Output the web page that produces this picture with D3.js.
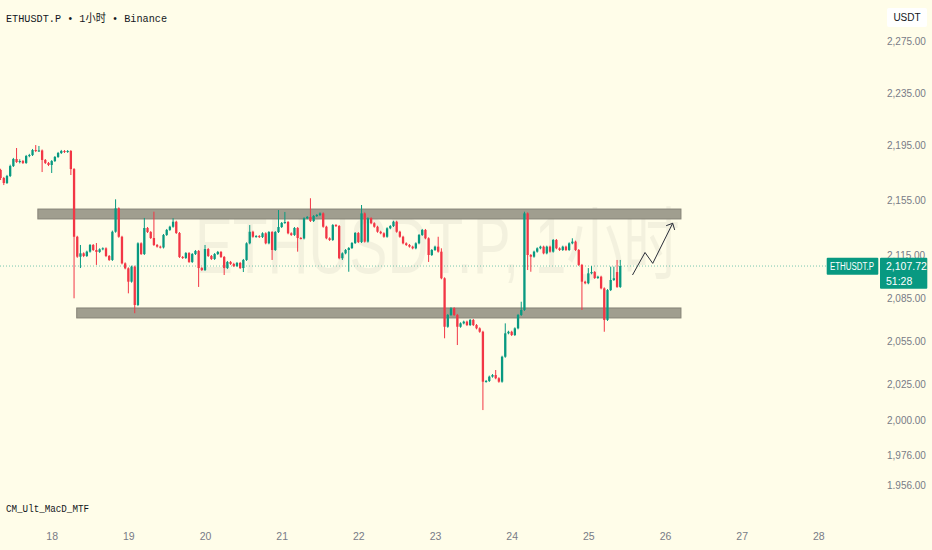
<!DOCTYPE html>
<html>
<head>
<meta charset="utf-8">
<script src="https://cdn.jsdelivr.net/npm/d3@7"></script>
<style>
  html, body { margin: 0; padding: 0; background: #fffde9; }
  svg { display: block; }
</style>
</head>
<body>
<div id="chart"></div>
<script>
// Hourly candles, first one at 17 Jan 08:00 (UTC)
var firstCandle = "2024-01-17T08:00:00Z"

var opens = [
  2177.1, 2171.2, 2167.5, 2172.7, 2180, 2185.2, 2183, 2183.7, 2182.3, 2187.4,
  2188.1, 2191.8, 2191.1, 2191.5, 2184.5, 2182.3, 2180.8, 2183.7, 2186.7, 2189.6,
  2191.1, 2190.4, 2191.1, 2177.8, 2128.6, 2114.3, 2116.7, 2114.8, 2117.9, 2122.7,
  2119.1, 2117.7, 2119.6, 2120.3, 2114.8, 2112, 2132.2, 2149, 2128.6, 2109.6,
  2106.1, 2096.7, 2107.3, 2080.3, 2123.9, 2116.2, 2134.9, 2132, 2127.7, 2122.7,
  2121.5, 2120.9, 2129.9, 2133.5, 2135.8, 2139.4, 2131.3, 2114.1, 2113.4, 2116.9,
  2110.6, 2116.2, 2118.4, 2106.3, 2104.9, 2119.8, 2114.8, 2112.7, 2116.2, 2117.7,
  2114.1, 2106.3, 2110.6, 2109.2, 2107.7, 2109.9, 2106.3, 2112, 2123.9, 2132.2,
  2128.6, 2129.1, 2128.4, 2131.1, 2123.9, 2132, 2119.1, 2132, 2135.6, 2138.5,
  2139.2, 2131.1, 2129.9, 2134.9, 2127.7, 2127.4, 2141.9, 2142.8, 2139.9, 2143.5,
  2144.2, 2145.4, 2135.8, 2127.5, 2126.3, 2137, 2136.3, 2113.2, 2116.7, 2119.1,
  2120.5, 2124.1, 2131.3, 2124.8, 2145.4, 2125.1, 2141.9, 2138.3, 2135.8, 2132.2,
  2131.1, 2128.6, 2134.7, 2136.3, 2139.4, 2132.2, 2128.6, 2123.9, 2122.7, 2121.5,
  2120.3, 2123.9, 2129.9, 2133.5, 2127.5, 2115.5, 2119.1, 2121.5, 2117.9, 2099.1,
  2065, 2073.3, 2078, 2073.3, 2065, 2067.4, 2068.6, 2066.2, 2069.8, 2066.2,
  2063.9, 2061.5, 2026.8, 2027.3, 2030.3, 2031.4, 2029.2, 2026.8, 2044.1, 2060.4,
  2061.5, 2059.2, 2063.9, 2073.3, 2076.8, 2145.4, 2115.5, 2114.3, 2117.9, 2120.3,
  2121.5, 2116.7, 2121.5, 2117.9, 2126.3, 2120.3, 2119.1, 2121.5, 2119.1, 2123.9,
  2125.1, 2119.1, 2108.5, 2096.7, 2095.6, 2102.6, 2103.5, 2099.3, 2100.2, 2092,
  2069.8, 2090.8, 2097.9, 2103.5, 2093
]

var highs = [
  2178, 2172, 2173.5, 2181, 2186, 2193.3, 2185, 2184.5, 2188.2, 2189,
  2192.6, 2195.5, 2194.8, 2192.2, 2185.2, 2183, 2184.4, 2187.4, 2190.4, 2191.9,
  2191.8, 2191.8, 2191.8, 2178.5, 2129.3, 2122.7, 2117.4, 2118.6, 2123.4, 2123.4,
  2124.1, 2120.3, 2121, 2121, 2115.5, 2133, 2155.5, 2149.7, 2129.3, 2110.3,
  2106.8, 2108, 2108, 2124.6, 2124.6, 2142.1, 2135.6, 2132.7, 2146.6, 2123.4,
  2122.2, 2130.6, 2134.2, 2136.5, 2141.9, 2140.1, 2132, 2114.8, 2117.6, 2117.6,
  2116.9, 2119.1, 2119.1, 2107, 2122.7, 2120.5, 2115.5, 2116.9, 2118.4, 2118.4,
  2114.8, 2111.3, 2111.3, 2110, 2110.6, 2110.6, 2112.7, 2124.6, 2137, 2132.9,
  2129.8, 2129.8, 2131.8, 2131.8, 2132.7, 2132.7, 2132.7, 2147.8, 2139.2, 2146.4,
  2139.9, 2131.8, 2135.6, 2135.6, 2128.4, 2142.6, 2143.5, 2156.3, 2144.2, 2144.9,
  2146.1, 2146.1, 2136.5, 2128.2, 2137.7, 2137.7, 2137, 2117.4, 2119.8, 2121.2,
  2124.8, 2132, 2132, 2151.4, 2146.1, 2142.6, 2142.6, 2139, 2136.5, 2132.9,
  2131.8, 2135.4, 2137, 2140.1, 2140.1, 2132.9, 2129.3, 2124.6, 2123.4, 2122.2,
  2124.6, 2130.6, 2134.2, 2134.2, 2128.2, 2119.8, 2122.2, 2128.6, 2120.3, 2099.8,
  2074, 2078.7, 2078.7, 2074, 2068.1, 2069.3, 2069.3, 2070.5, 2070.5, 2066.9,
  2064.6, 2062.2, 2028, 2031, 2032.1, 2034.9, 2029.9, 2044.8, 2067.4, 2062.2,
  2062.2, 2064.6, 2074, 2082.6, 2146.6, 2146.1, 2116.2, 2118.6, 2121, 2122.2,
  2122.2, 2122.2, 2122.2, 2127, 2127, 2121, 2122.2, 2122.2, 2124.6, 2127.5,
  2125.8, 2119.8, 2109.2, 2097.4, 2106.3, 2107.7, 2104.2, 2100.9, 2100.9, 2092.7,
  2091.5, 2107.3, 2107.3, 2112, 2112
]

var lows = [
  2169.7, 2166, 2166.8, 2171.9, 2179.3, 2182.3, 2182, 2181.5, 2181.6, 2186.5,
  2187.4, 2190.3, 2190.4, 2175.6, 2181.5, 2180, 2174.9, 2183, 2186, 2188.9,
  2189.6, 2189.7, 2173.4, 2085, 2113.5, 2106.3, 2114, 2114.1, 2117.2, 2118.4,
  2108.5, 2117, 2118.9, 2114, 2111.3, 2111.3, 2131.5, 2127.9, 2108.9, 2105.4,
  2088.5, 2096, 2074.5, 2079.5, 2115.5, 2115.5, 2131.3, 2127, 2122, 2120.8,
  2120.2, 2120.2, 2129.2, 2132.8, 2135.1, 2130.6, 2113.4, 2112.7, 2112.7, 2109.9,
  2109.9, 2115.5, 2093, 2104.2, 2104.2, 2114.1, 2112, 2112, 2115.5, 2113.4,
  2101.4, 2105.6, 2108.5, 2107, 2107, 2105.6, 2103.5, 2111.3, 2123.2, 2127.9,
  2127.9, 2127.7, 2127.7, 2123.2, 2123.2, 2112, 2118.4, 2131.3, 2134.9, 2137.8,
  2130.4, 2129.2, 2129.2, 2117.9, 2126.7, 2126.7, 2141.2, 2139.2, 2139.2, 2142.8,
  2143.5, 2135.1, 2126.8, 2125.6, 2125.6, 2135.6, 2112.5, 2112, 2116, 2103.7,
  2119.8, 2123.4, 2124.1, 2124.1, 2124.4, 2124.4, 2137.6, 2135.1, 2131.5, 2130.4,
  2127.9, 2127.9, 2134, 2135.6, 2131.5, 2127.9, 2123.2, 2122, 2120.8, 2119.6,
  2119.6, 2123.2, 2129.2, 2126.8, 2110.6, 2114.8, 2118.4, 2117.2, 2098.4, 2056.9,
  2064.3, 2072.6, 2072.6, 2052.2, 2064.3, 2066.7, 2065.5, 2065.5, 2065.5, 2063.2,
  2060.8, 2007.3, 2026.1, 2026.6, 2029.6, 2028.5, 2026.1, 2026.1, 2043.4, 2059.7,
  2058.5, 2058.5, 2063.2, 2072.6, 2076.1, 2104.9, 2103.7, 2113.6, 2117.2, 2119.6,
  2116, 2116, 2117.2, 2117.2, 2119.6, 2118.4, 2118.4, 2118.4, 2118.4, 2123.2,
  2118.4, 2107.8, 2076.8, 2094.9, 2094.9, 2101.9, 2098.6, 2098.6, 2091.3, 2061.5,
  2069.1, 2090.1, 2097.2, 2092.3, 2092.3
]

var closes = [
  2171.2, 2167.5, 2172.7, 2180, 2185.2, 2183, 2183.7, 2182.3, 2187.4, 2188.1,
  2191.8, 2191.1, 2191.5, 2184.5, 2182.3, 2180.8, 2183.7, 2186.7, 2189.6, 2191.1,
  2190.4, 2191.1, 2177.8, 2128.6, 2114.3, 2116.7, 2114.8, 2117.9, 2122.7, 2119.1,
  2117.7, 2119.6, 2120.3, 2114.8, 2112, 2132.2, 2149, 2128.6, 2109.6, 2106.1,
  2096.7, 2107.3, 2080.3, 2123.9, 2116.2, 2134.9, 2132, 2127.7, 2122.7, 2121.5,
  2120.9, 2129.9, 2133.5, 2135.8, 2139.4, 2131.3, 2114.1, 2113.4, 2116.9, 2110.6,
  2116.2, 2118.4, 2106.3, 2104.9, 2119.8, 2114.8, 2112.7, 2116.2, 2117.7, 2114.1,
  2106.3, 2110.6, 2109.2, 2107.7, 2109.9, 2106.3, 2112, 2123.9, 2132.2, 2128.6,
  2129.1, 2128.4, 2131.1, 2123.9, 2132, 2119.1, 2132, 2135.6, 2138.5, 2139.2,
  2131.1, 2129.9, 2134.9, 2127.7, 2127.4, 2141.9, 2142.8, 2139.9, 2143.5, 2144.2,
  2145.4, 2135.8, 2127.5, 2126.3, 2137, 2136.3, 2113.2, 2116.7, 2119.1, 2120.5,
  2124.1, 2131.3, 2124.8, 2145.4, 2125.1, 2141.9, 2138.3, 2135.8, 2132.2, 2131.1,
  2128.6, 2134.7, 2136.3, 2139.4, 2132.2, 2128.6, 2123.9, 2122.7, 2121.5, 2120.3,
  2123.9, 2129.9, 2133.5, 2127.5, 2115.5, 2119.1, 2121.5, 2117.9, 2099.1, 2065,
  2073.3, 2078, 2073.3, 2065, 2067.4, 2068.6, 2066.2, 2069.8, 2066.2, 2063.9,
  2061.5, 2026.8, 2027.3, 2030.3, 2031.4, 2029.2, 2026.8, 2044.1, 2060.4, 2061.5,
  2059.2, 2063.9, 2073.3, 2076.8, 2145.4, 2115.5, 2114.3, 2117.9, 2120.3, 2121.5,
  2116.7, 2121.5, 2117.9, 2126.3, 2120.3, 2119.1, 2121.5, 2119.1, 2123.9, 2125.1,
  2119.1, 2108.5, 2096.7, 2095.6, 2102.6, 2103.5, 2099.3, 2100.2, 2092, 2069.8,
  2090.8, 2097.9, 2099.1, 2093, 2107.72
]

var lastPrice = 2107.72
var countdown = "51:28"

// Price scale labels as printed on the right axis
var priceTicks = [2275, 2235, 2195, 2155, 2115, 2085, 2055, 2025, 2000, 1976, 1956]

// Support / resistance boxes drawn on the chart
var zoneStarts  = ["2024-01-17T19:40:00Z", "2024-01-18T07:50:00Z"]
var zoneEnds    = ["2024-01-26T05:00:00Z", "2024-01-26T05:00:00Z"]
var zoneTops    = [2148.5, 2078.2]
var zoneBottoms = [2141.4, 2071.2]

// Hand drawn projection arrow
var arrowTimes  = ["2024-01-25T13:50:00Z", "2024-01-25T17:45:00Z", "2024-01-25T20:10:00Z", "2024-01-26T02:25:00Z"]
var arrowPrices = [2101.4, 2117.3, 2109.6, 2138.3]

// Some global parameters
var width = 932
var height = 550
var bg = "#fffde9"
var up = "#089981"
var down = "#f23645"
var axisGrey = "#787b86"

var svg = d3.select("#chart")
            .append("svg")
            .attr("width", width)
            .attr("height", height)

svg.append("rect").attr("width", width).attr("height", height).attr("fill", bg)

// Scales: hourly time on x, the printed price ladder on y
var xScale = d3.scaleUtc()
               .domain([new Date("2024-01-18T00:00:00Z"), new Date("2024-01-28T00:00:00Z")])
               .range([51.7, 818.3])

var yScale = d3.scaleLinear()
               .domain(priceTicks)
               .range([41.7, 93.3, 145.7, 200, 255.7, 298.3, 341, 384.3, 420.7, 455.7, 485])

var candles = opens.map((o, i) => ({
  t: d3.utcHour.offset(new Date(firstCandle), i),
  o: o, h: highs[i], l: lows[i], c: closes[i]
}))

// Watermark, squeezed horizontally to the width it has in the screenshot
var wm = svg.append("text")
   .attr("x", 0)
   .attr("y", 0)
   .attr("font-family", "Liberation Sans, Noto Sans CJK SC, sans-serif")
   .attr("font-size", 80)
   .attr("fill", "#000")
   .attr("opacity", 0.045)
   .text("ETHUSDT.P, 1小时")
var wmScale = 485 / wm.node().getComputedTextLength()
wm.attr("transform", "translate(195, 273) scale(" + wmScale + ", 1)")

// Zones
svg.selectAll(".zone")
   .data(zoneStarts)
   .enter()
   .append("rect")
   .attr("class", "zone")
   .attr("x", (d) => xScale(new Date(d)))
   .attr("width", (d, i) => xScale(new Date(zoneEnds[i])) - xScale(new Date(d)))
   .attr("y", (d, i) => yScale(zoneTops[i]))
   .attr("height", (d, i) => yScale(zoneBottoms[i]) - yScale(zoneTops[i]))
   .attr("fill", "#a09e8f")
   .attr("stroke", "#858377")
   .attr("stroke-width", 1)

// Current price line
svg.append("line")
   .attr("x1", 0)
   .attr("x2", 826)
   .attr("y1", yScale(lastPrice))
   .attr("y2", yScale(lastPrice))
   .attr("stroke", up)
   .attr("stroke-opacity", 0.55)
   .attr("stroke-width", 1)
   .style("stroke-dasharray", ("1, 2"))

// Candles
var candle = svg.selectAll(".candle")
                .data(candles)
                .enter()
                .append("g")
                .attr("class", "candle")

candle.append("line")
      .attr("x1", (d) => xScale(d.t))
      .attr("x2", (d) => xScale(d.t))
      .attr("y1", (d) => yScale(Math.max(d.h, d.o, d.c)))
      .attr("y2", (d) => yScale(Math.min(d.l, d.o, d.c)))
      .attr("stroke", (d) => d.c >= d.o ? up : down)
      .attr("stroke-width", 1)

candle.append("rect")
      .attr("x", (d) => xScale(d.t) - 1.15)
      .attr("width", 2.3)
      .attr("y", (d) => yScale(Math.max(d.o, d.c)))
      .attr("height", (d) => Math.max(1, yScale(Math.min(d.o, d.c)) - yScale(Math.max(d.o, d.c))))
      .attr("fill", (d) => d.c >= d.o ? up : down)

// Arrow
var arrowPts = arrowTimes.map((t, i) => [xScale(new Date(t)), yScale(arrowPrices[i])])
svg.append("path")
   .attr("d", d3.line()(arrowPts))
   .attr("fill", "none")
   .attr("stroke", "#2a2e39")
   .attr("stroke-width", 1)

var tip = arrowPts[arrowPts.length - 1]
var prev = arrowPts[arrowPts.length - 2]
var ang = Math.atan2(prev[1] - tip[1], prev[0] - tip[0])
;[-0.75, 0.75].forEach(function(da) {
  svg.append("line")
     .attr("x1", tip[0]).attr("y1", tip[1])
     .attr("x2", tip[0] + 7 * Math.cos(ang + da))
     .attr("y2", tip[1] + 7 * Math.sin(ang + da))
     .attr("stroke", "#2a2e39")
     .attr("stroke-width", 1)
})

// Price axis (clipped at the bottom of the main pane)
svg.append("clipPath").attr("id", "paneClip")
   .append("rect").attr("x", 0).attr("y", 0).attr("width", width).attr("height", 489)

var yAxis = d3.axisRight(yScale)
              .tickValues(priceTicks)
              .tickFormat(d3.format(",.2f"))
              .tickSize(0)
              .tickPadding(0)

var yAxisG = svg.append("g")
   .attr("transform", "translate(887, 0)")
   .attr("clip-path", "url(#paneClip)")
   .call(yAxis)
yAxisG.select(".domain").remove()
yAxisG.selectAll("text")
      .attr("fill", axisGrey)
      .attr("font-family", "Liberation Sans, sans-serif")
      .attr("font-size", 10)

// Time axis
var xAxis = d3.axisBottom(xScale)
              .ticks(d3.utcDay.every(1))
              .tickFormat(d3.utcFormat("%-d"))
              .tickSize(0)

var xAxisG = svg.append("g")
   .attr("transform", "translate(0, 530)")
   .call(xAxis)
xAxisG.select(".domain").remove()
xAxisG.selectAll("text")
      .attr("fill", axisGrey)
      .attr("font-family", "Liberation Sans, sans-serif")
      .attr("font-size", 10.5)

// Unit box
svg.append("rect").attr("x", 887).attr("y", 8).attr("width", 40).attr("height", 19)
   .attr("rx", 2).attr("fill", "#ffffff")
svg.append("text").attr("x", 907).attr("y", 21).attr("text-anchor", "middle")
   .attr("font-family", "Liberation Sans, sans-serif").attr("font-size", 10)
   .attr("fill", "#131722").text("USDT")

// Last price labels
var ly = yScale(lastPrice)
svg.append("rect").attr("x", 826.7).attr("y", ly - 8.3).attr("width", 51.6).attr("height", 17)
   .attr("rx", 1).attr("fill", up)
svg.append("text").attr("x", 830).attr("y", ly + 3.8)
   .attr("font-family", "Liberation Sans, sans-serif").attr("font-size", 10)
   .attr("textLength", 44).attr("lengthAdjust", "spacingAndGlyphs")
   .attr("fill", "#ffffff").text("ETHUSDT.P")

svg.append("rect").attr("x", 880).attr("y", ly - 8.3).attr("width", 47.3).attr("height", 31)
   .attr("rx", 1).attr("fill", up)
svg.append("text").attr("x", 886).attr("y", ly + 4)
   .attr("font-family", "Liberation Sans, sans-serif").attr("font-size", 10.5)
   .attr("fill", "#ffffff").text(d3.format(",.2f")(lastPrice))
svg.append("text").attr("x", 886).attr("y", ly + 18.5)
   .attr("font-family", "Liberation Sans, sans-serif").attr("font-size", 10.5)
   .attr("fill", "#ffffff").text(countdown)

// Title and indicator name
svg.append("text")
   .attr("x", 6).attr("y", 22.3)
   .attr("font-family", "Liberation Mono, Noto Sans CJK SC, monospace")
   .attr("font-size", 11.5)
   .attr("textLength", 161)
   .attr("lengthAdjust", "spacingAndGlyphs")
   .attr("fill", "#131722")
   .text("ETHUSDT.P • 1小时 • Binance")

svg.append("text")
   .attr("x", 6).attr("y", 511.5)
   .attr("font-family", "Liberation Mono, monospace")
   .attr("font-size", 11.5)
   .attr("textLength", 83)
   .attr("lengthAdjust", "spacingAndGlyphs")
   .attr("fill", "#131722")
   .text("CM_Ult_MacD_MTF")
</script>
</body>
</html>
